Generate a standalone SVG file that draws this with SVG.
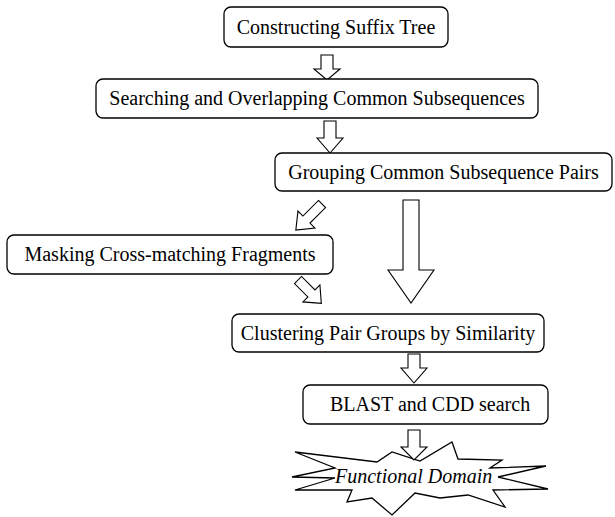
<svg xmlns="http://www.w3.org/2000/svg" width="615" height="517" viewBox="0 0 615 517">
<style>
.box{fill:#fff;stroke:#000;stroke-width:1.3}
.t{font-family:"Liberation Serif","Times New Roman",serif;font-size:20px;fill:#000}
.arr{fill:#fff;stroke:#000;stroke-width:1.1;stroke-linejoin:miter}
</style>
<rect width="615" height="517" fill="#fff"/>
<g id="connectors">
<path class="arr" d="M321,55 H333 V69 H340 L327,80 L314,69 H321 Z"/>
<path class="arr" d="M324,121 H336 V138 H343 L330,153 L317,138 H324 Z"/>
<path class="arr" d="M403,200 H419 V270 H434 L411,303 L388,270 H403 Z"/>
<path class="arr" transform="translate(322,204) rotate(45)" d="M-5,0 H5 V22 H12 L0,37 L-12,22 H-5 Z"/>
<path class="arr" transform="translate(298,280) rotate(-45)" d="M-5,0 H5 V19 H12 L0,33 L-12,19 H-5 Z"/>
<path class="arr" d="M408,354 H420 V368 H427 L414,383 L401,368 H408 Z"/>
</g>
<g id="n1"><rect class="box" x="224" y="7" width="224" height="40" rx="7"/><text class="t" x="336" y="34" text-anchor="middle">Constructing Suffix Tree</text></g>
<g id="n2"><rect class="box" x="96" y="79" width="442" height="39" rx="7"/><text class="t" x="317" y="105" text-anchor="middle">Searching and Overlapping Common Subsequences</text></g>
<g id="n3"><rect class="box" x="275" y="153" width="337" height="38" rx="7"/><text class="t" x="443.5" y="179" text-anchor="middle">Grouping Common Subsequence Pairs</text></g>
<g id="n4"><rect class="box" x="7" y="235" width="326" height="39" rx="7"/><text class="t" x="170" y="261" text-anchor="middle">Masking Cross-matching Fragments</text></g>
<g id="n5"><rect class="box" x="232" y="314" width="312" height="38" rx="7"/><text class="t" x="388" y="340" text-anchor="middle">Clustering Pair Groups by Similarity</text></g>
<g id="n6"><rect class="box" x="303" y="385" width="245" height="39" rx="7"/><text class="t" x="330" y="411">BLAST and CDD search</text></g>
<g id="n7"><polygon class="box" stroke-width="1" points="295,452 377,462 392,452 420,461 452,442 458,459 502,460 490,468 546,466 498,477 548,489 493,490 505,507 468,495 440,498 415,493 392,515 372,498 347,502 352,490 295,490 335,478 292,477 335,468"/><text class="t" x="335" y="483" font-style="italic">Functional Domain</text></g>
<g id="connectors2"><path class="arr" d="M408,430 H420 V447 H427 L414,460 L401,447 H408 Z"/></g>
</svg>
